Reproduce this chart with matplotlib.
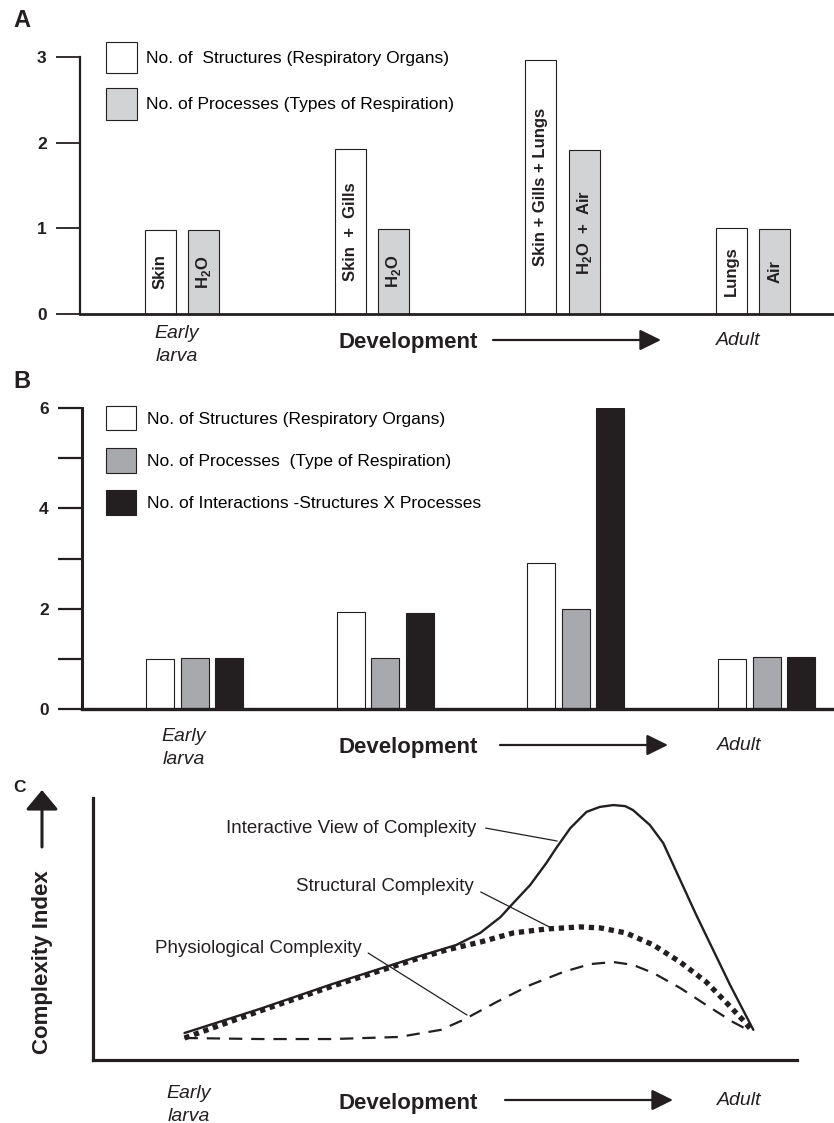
import numpy as np
import matplotlib
matplotlib.use('Agg')
import matplotlib.pyplot as plt
from matplotlib.patches import FancyArrowPatch

plt.rcParams['font.family'] = ['Liberation Sans', 'DejaVu Sans']
plt.rcParams['mathtext.fontset'] = 'custom'
plt.rcParams['mathtext.rm'] = 'Liberation Sans'
plt.rcParams['mathtext.bf'] = 'Liberation Sans:bold'

INK = '#231f20'
W, H = 834, 1123

# ---- panel A: structures vs processes ----
a_structures = [0.98, 1.93, 2.97, 1.0]
a_processes = [0.98, 0.99, 1.91, 0.99]
a_struct_text = ['Skin', 'Skin  +  Gills', 'Skin + Gills + Lungs', 'Lungs']
a_proc_text = [r'H$_\mathbf{2}$O', r'H$_\mathbf{2}$O', r'H$_\mathbf{2}$O  +  Air', 'Air']
a_legend = ['No. of  Structures (Respiratory Organs)',
            'No. of Processes (Types of Respiration)']

# ---- panel B: with interactions ----
b_structures = [1.0, 1.94, 2.92, 1.0]
b_processes = [1.02, 1.02, 1.99, 1.04]
b_interactions = [1.02, 1.91, 6.0, 1.04]
b_legend = ['No. of Structures (Respiratory Organs)',
            'No. of Processes  (Type of Respiration)',
            'No. of Interactions -Structures X Processes']

# ---- panel C: complexity curves (development, index) ----
inter_x = [1.30, 2.37, 3.40, 4.55, 5.16, 5.50, 5.79, 5.97, 6.21, 6.44, 6.58,
           6.78, 7.01, 7.20, 7.39, 7.56, 7.67, 7.91, 8.10, 8.57, 9.05, 9.38]
inter_y = [1.03, 1.95, 2.90, 3.89, 4.39, 4.85, 5.46, 5.99, 6.68, 7.52, 8.09,
           8.85, 9.47, 9.66, 9.73, 9.69, 9.54, 8.97, 8.28, 5.53, 2.86, 1.15]
struct_x = [1.30, 2.37, 3.40, 4.55, 5.02, 5.50, 5.97, 6.44, 6.92, 7.21, 7.57,
            7.96, 8.34, 8.71, 8.99, 9.23, 9.35]
struct_y = [0.84, 1.87, 2.82, 3.82, 4.20, 4.50, 4.85, 5.00, 5.08, 5.04, 4.85,
            4.39, 3.74, 2.98, 2.21, 1.53, 1.15]
phys_x = [1.30, 2.37, 3.40, 4.35, 4.94, 5.26, 5.73, 6.21, 6.68, 7.06, 7.39,
          7.67, 7.96, 8.34, 8.71, 9.09, 9.28]
phys_y = [0.84, 0.80, 0.80, 0.88, 1.15, 1.53, 2.21, 2.86, 3.36, 3.66, 3.74,
          3.63, 3.32, 2.75, 2.10, 1.45, 1.18]


def fx(px):
    return px / W


def fy(py):
    return 1 - py / H


def style_axis(ax, lw_left, lw_bottom, tick_w):
    for s in ['top', 'right']:
        ax.spines[s].set_visible(False)
    ax.spines['left'].set_linewidth(lw_left)
    ax.spines['bottom'].set_linewidth(lw_bottom)
    ax.spines['left'].set_color(INK)
    ax.spines['bottom'].set_color(INK)
    ax.tick_params(axis='y', direction='out', length=17, width=tick_w,
                   pad=7, colors=INK, labelsize=12.5)
    ax.set_xticks([])
    for t in ax.get_yticklabels():
        t.set_fontweight('bold')


def dev_caption(early_y, dev_y, adult_y, arrow_y, early_x, dev_x, arr0, arr1, adult_x):
    fig.text(fx(early_x), fy(early_y), 'Early', style='italic', fontsize=14,
             ha='center', va='baseline', color=INK)
    fig.text(fx(early_x), fy(early_y + 23), 'larva', style='italic', fontsize=14,
             ha='center', va='baseline', color=INK)
    fig.text(fx(dev_x), fy(dev_y), 'Development', fontweight='bold', fontsize=16,
             ha='left', va='baseline', color=INK)
    fig.text(fx(adult_x), fy(adult_y), 'Adult', style='italic', fontsize=14,
             ha='center', va='baseline', color=INK)
    arr = FancyArrowPatch((fx(arr0), fy(arrow_y)), (fx(arr1), fy(arrow_y)),
                          transform=fig.transFigure,
                          arrowstyle='-|>,head_length=0.65,head_width=0.32',
                          mutation_scale=20, lw=1.6, color=INK,
                          shrinkA=0, shrinkB=0)
    fig.add_artist(arr)


fig = plt.figure(figsize=(8.34, 11.23), dpi=100)

# ---------------- A ----------------
axA = fig.add_axes([fx(80), fy(314), 1 - fx(80), fy(57) - fy(314)])
xa = np.arange(len(a_structures))
wa, offa = 0.163, 0.114
axA.bar(xa - offa, a_structures, wa, color='white', edgecolor=INK, lw=0.8,
        label=a_legend[0])
axA.bar(xa + offa, a_processes, wa, color='#d1d3d4', edgecolor=INK, lw=0.8,
        label=a_legend[1])
for i in range(len(xa)):
    axA.text(xa[i] - offa, a_structures[i] / 2, a_struct_text[i], rotation=90,
             ha='center', va='center', fontsize=12, fontweight='bold', color=INK)
    axA.text(xa[i] + offa, a_processes[i] / 2, a_proc_text[i], rotation=90,
             ha='center', va='center', fontsize=12, fontweight='bold', color=INK)
axA.set_xlim(-0.535, 3.426)
axA.set_ylim(0, 3)
axA.set_yticks([0, 1, 2, 3])
style_axis(axA, 1.6, 2.0, 1.3)
axA.legend(loc='upper left', bbox_to_anchor=(fx(106), fy(42)),
           bbox_transform=fig.transFigure, frameon=False, fontsize=12.5,
           handlelength=1.78, handleheight=2.4, labelspacing=0.86,
           handletextpad=0.55, borderpad=0, borderaxespad=0)
fig.text(fx(13), fy(27), 'A', fontsize=17, fontweight='bold', va='baseline', color=INK)
dev_caption(338, 348, 345, 340, 177, 338, 493, 661, 738)

# ---------------- B ----------------
axB = fig.add_axes([fx(82), fy(709), 1 - fx(82), fy(408) - fy(709)])
xb = np.arange(len(b_structures))
wb, offb = 0.147, 0.181
axB.bar(xb - offb, b_structures, wb, color='white', edgecolor=INK, lw=0.8,
        label=b_legend[0])
axB.bar(xb, b_processes, wb, color='#a7a9ac', edgecolor=INK, lw=0.8,
        label=b_legend[1])
axB.bar(xb + offb, b_interactions, wb, color=INK, edgecolor=INK, lw=0.8,
        label=b_legend[2])
axB.set_xlim(-0.59, 3.353)
axB.set_ylim(0, 6)
axB.set_yticks(range(7))
axB.set_yticklabels(['0', '', '2', '', '4', '', '6'])
style_axis(axB, 2.2, 2.4, 1.6)
axB.legend(loc='upper left', bbox_to_anchor=(fx(106), fy(406)),
           bbox_transform=fig.transFigure, frameon=False, fontsize=12.5,
           handlelength=1.75, handleheight=1.78, labelspacing=1.03,
           handletextpad=0.6, borderpad=0, borderaxespad=0)
fig.text(fx(13), fy(388), 'B', fontsize=17, fontweight='bold', va='baseline', color=INK)
dev_caption(741, 753, 750, 745, 184, 338, 500, 668, 739)

# ---------------- C ----------------
axC = fig.add_axes([fx(93), fy(1060), fx(797) - fx(93), fy(798) - fy(1060)])
axC.plot(phys_x, phys_y, color=INK, lw=1.6, linestyle=(0, (6, 4)))
axC.plot(struct_x, struct_y, color=INK, lw=3.8, linestyle=(0, (1, 0.9)),
         dash_capstyle='butt')
axC.plot(inter_x, inter_y, color=INK, lw=1.7, solid_capstyle='round',
         solid_joinstyle='round')
axC.set_xlim(0, 10)
axC.set_ylim(0, 10)
for s in ['top', 'right']:
    axC.spines[s].set_visible(False)
for s in ['left', 'bottom']:
    axC.spines[s].set_linewidth(2.3)
    axC.spines[s].set_color(INK)
axC.set_xticks([])
axC.set_yticks([])

axC.text(5.45, 8.82, 'Interactive View of Complexity', ha='right', va='center',
         fontsize=13.5, color=INK)
axC.plot([5.58, 6.59], [8.85, 8.36], color=INK, lw=0.9)
axC.text(5.41, 6.64, 'Structural Complexity', ha='right', va='center',
         fontsize=13.5, color=INK)
axC.plot([5.51, 6.51], [6.41, 5.04], color=INK, lw=0.9)
axC.text(3.82, 4.24, 'Physiological Complexity', ha='right', va='center',
         fontsize=13.5, color=INK)
axC.plot([3.91, 5.31], [4.08, 1.72], color=INK, lw=0.9)

fig.text(fx(13), fy(792), 'C', fontsize=12.5, fontweight='bold', va='baseline', color=INK)
fig.text(fx(43), fy(962), 'Complexity Index', rotation=90, ha='center', va='center',
         fontsize=16, fontweight='bold', color=INK)
up = FancyArrowPatch((fx(42), fy(847)), (fx(42), fy(790)), transform=fig.transFigure,
                     arrowstyle='-|>,head_length=0.6,head_width=0.5',
                     mutation_scale=20, lw=2.2, color=INK, shrinkA=0, shrinkB=0)
fig.add_artist(up)
dev_caption(1098, 1109, 1105, 1100, 189, 338, 505, 673, 739)

fig.savefig('out.png', dpi=100)
